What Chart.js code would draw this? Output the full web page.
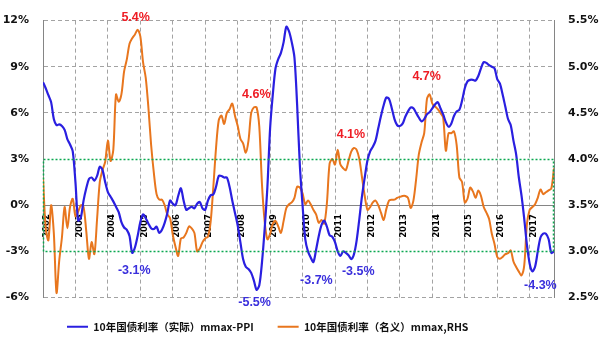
<!DOCTYPE html>
<html>
<head>
<meta charset="utf-8">
<script src="https://cdn.jsdelivr.net/npm/chart.js@4.4.1/dist/chart.umd.min.js"></script>
<style>
  html, body { margin: 0; padding: 0; background: #fff; }
  #wrap { width: 600px; height: 340px; }
</style>
</head>
<body>
<div id="wrap"><canvas id="yield-chart" width="600" height="340"></canvas></div>
<script>
// monthly series, first value = Jan 2002
const startYear = 2002;
const yearTicks = [2002, 2003, 2004, 2005, 2006, 2007, 2008, 2009, 2010, 2011, 2012, 2013, 2014, 2015, 2016, 2017];
const leftTicks = [-6, -3, 0, 3, 6, 9, 12];
const rightTicks = [2.5, 3.0, 3.5, 4.0, 4.5, 5.0, 5.5];
const seriesNames = ["10年国债利率（实际）mmax-PPI", "10年国债利率（名义）mmax,RHS"];

// real 10y yield (left axis, %)
const realYield = [
  8.0, 7.6, 7.15, 6.7, 5.6, 5.2, 5.25, 5.15, 4.9, 4.3, 3.95, 3.5,
  1.5, -1.0, -0.8, 0.3, 1.1, 1.7, 1.8, 1.6, 1.9, 2.5, 2.3, 1.5,
  0.85, 0.55, 0.25, -0.1, -0.45, -1.1, -1.45, -1.6, -2.0, -3.1, -2.75, -2.0,
  -1.1, -0.6, -0.85, -1.2, -1.5, -1.55, -1.4, -1.8, -1.6, -1.15, -0.5, 0.3,
  0.1, 0.0, 0.6, 1.1, 0.3, -0.3, -0.2, -0.1, -0.2, 0.1, 0.2, -0.2,
  -0.3, 0.3, 0.65, 0.7, 1.2, 1.9, 1.9, 1.8, 1.8, 1.2, 0.3, -0.5,
  -1.3, -2.4, -3.5, -4.0, -4.15, -4.4, -4.9, -5.5, -5.2, -3.7, -1.5, 1.2,
  5.0, 7.2, 8.9, 9.5, 9.9, 10.6, 11.6, 11.3, 10.6, 9.6, 6.5, 2.6,
  0.0, -2.2, -3.0, -3.4, -3.7, -2.9, -2.0, -1.3, -1.0, -1.4, -1.95, -2.05,
  -2.4, -3.0, -3.3, -3.0, -3.1, -3.25, -3.5, -3.2, -2.3, -0.9, 0.6, 1.8,
  2.9, 3.5, 3.8, 4.2, 5.0, 5.8, 6.5, 7.0, 6.9, 6.3, 5.6, 5.2,
  5.15, 5.3, 5.75, 6.1, 6.35, 6.3, 6.0, 5.7, 5.45, 5.6, 5.9, 6.05,
  6.3, 6.55, 6.7, 6.3, 5.9, 5.4, 5.1, 5.3, 5.8, 6.1, 6.2, 6.8,
  7.6, 8.05, 8.15, 8.15, 8.1, 8.4, 8.9, 9.3, 9.25, 9.1, 9.0, 8.9,
  8.2, 7.9, 7.2, 6.4, 5.6, 5.2, 4.2, 3.3, 1.8, 0.6, -0.9, -2.6,
  -3.8, -4.3, -4.0, -3.0, -2.1, -1.85, -1.85, -2.2, -3.1, -3.0
];

// nominal 10y yield (right axis, %)
const nominalYield = [
  3.8, 3.25, 3.12, 3.5, 3.2, 2.55, 2.9, 3.15, 3.48, 3.25, 3.48, 3.57,
  3.38, 3.43, 3.5, 3.48, 3.22, 2.92, 3.1, 2.97, 3.35, 3.75, 3.88, 3.97,
  4.2, 3.98, 4.1, 4.7, 4.62, 4.7, 4.95, 5.08, 5.25, 5.31, 5.35, 5.4,
  5.33, 5.05, 4.88, 4.55, 4.15, 3.85, 3.62, 3.56, 3.56, 3.5, 3.4, 3.36,
  3.18, 3.05, 2.95, 3.14, 3.15, 3.2, 3.27, 3.25, 3.2, 3.0, 3.03, 3.1,
  3.14, 3.16, 3.32, 3.7, 4.12, 4.42, 4.47, 4.38, 4.5, 4.54, 4.6, 4.47,
  4.36, 4.22, 4.17, 4.07, 4.2, 4.5, 4.56, 4.56, 4.35, 3.72, 3.32, 3.13,
  3.19, 3.3, 3.33, 3.27, 3.2, 3.33, 3.47, 3.51, 3.53, 3.58, 3.7, 3.69,
  3.63, 3.51, 3.55, 3.51, 3.45, 3.4, 3.31, 3.34, 3.3, 3.52, 3.95, 4.0,
  3.94, 4.1, 3.94, 3.9, 3.88, 3.98, 4.08, 4.12, 4.1, 4.0, 3.8, 3.6,
  3.45, 3.48, 3.53, 3.55, 3.5, 3.42, 3.34, 3.46, 3.55, 3.56, 3.56, 3.58,
  3.59, 3.6, 3.6, 3.58, 3.47, 3.55, 3.78, 4.05, 4.18, 4.28, 4.65, 4.7,
  4.6, 4.57, 4.54, 4.5, 4.45, 4.09, 4.28, 4.28, 4.3, 4.15, 3.8, 3.75,
  3.53, 3.57, 3.69, 3.65, 3.58, 3.66, 3.6, 3.48, 3.42, 3.35, 3.19, 3.08,
  2.94, 2.92, 2.94, 2.97, 2.98, 3.01, 2.89, 2.83, 2.78, 2.74, 2.85, 3.3,
  3.45, 3.48, 3.51, 3.58, 3.67, 3.62, 3.64, 3.66, 3.68, 3.9
];

// +/-3% band on the left axis
const bandHigh = 3;
const bandLow = -3;

// peaks and troughs that get a value label (series index, month index)
const callouts = [
  { series: 1, month: 35, dx: -2, dy: -12 },
  { series: 1, month: 70, dx: 24, dy: -9 },
  { series: 1, month: 115, dx: -3, dy: -13 },
  { series: 1, month: 143, dx: -3, dy: -18 },
  { series: 0, month: 33, dx: 2, dy: 18 },
  { series: 0, month: 79, dx: -2, dy: 13 },
  { series: 0, month: 100, dx: 3, dy: 18 },
  { series: 0, month: 114, dx: 7, dy: 13 },
  { series: 0, month: 181, dx: 8, dy: 14 }
];

const BLUE = '#2a1fe0';
const ORANGE = '#e8761e';
const GRID = '#a3a3a3';
const AXIS = '#858585';

const toPoints = arr => arr.map((v, i) => ({ x: startYear + i / 12, y: v }));

// green dotted frame around the +/-3% range
const bandBox = {
  id: 'bandBox',
  afterDraw(chart) {
    const { ctx, chartArea: a, scales } = chart;
    const top = Math.round(scales.y.getPixelForValue(bandHigh)) + 0.5;
    const bottom = Math.round(scales.y.getPixelForValue(bandLow)) + 0.5;
    const left = Math.round(a.left) + 0.5;
    const right = Math.round(a.right) - 0.5;
    ctx.save();
    ctx.strokeStyle = '#0aa850';
    ctx.lineWidth = 1.5;
    ctx.setLineDash([2, 2]);
    ctx.beginPath();
    ctx.moveTo(left, top); ctx.lineTo(right, top); ctx.lineTo(right, bottom);
    ctx.lineTo(left, bottom); ctx.lineTo(left, top);
    ctx.stroke();
    ctx.restore();
  }
};

const valueLabels = {
  id: 'valueLabels',
  afterDatasetsDraw(chart) {
    const { ctx, scales } = chart;
    ctx.save();
    ctx.font = "bold 12.5px 'Liberation Sans', Arial, sans-serif";
    ctx.textAlign = 'center';
    ctx.textBaseline = 'middle';
    callouts.forEach(c => {
      const data = c.series === 0 ? realYield : nominalYield;
      const yScale = c.series === 0 ? scales.y : scales.y1;
      const v = data[c.month];
      const px = scales.x.getPixelForValue(startYear + c.month / 12);
      const py = yScale.getPixelForValue(v);
      ctx.fillStyle = c.series === 0 ? '#3a2fdc' : '#ee1c24';
      ctx.fillText(v.toFixed(1) + '%', px + c.dx, py + c.dy);
    });
    ctx.restore();
  }
};

Chart.defaults.font.family = "'DejaVu Sans', sans-serif";

new Chart(document.getElementById('yield-chart'), {
  type: 'line',
  data: {
    datasets: [
      {
        label: seriesNames[0],
        data: toPoints(realYield),
        yAxisID: 'y',
        borderColor: BLUE,
        backgroundColor: BLUE,
        borderWidth: 2.2,
        pointRadius: 0,
        tension: 0.3
      },
      {
        label: seriesNames[1],
        data: toPoints(nominalYield),
        yAxisID: 'y1',
        borderColor: ORANGE,
        backgroundColor: ORANGE,
        borderWidth: 2,
        pointRadius: 0,
        tension: 0.3
      }
    ]
  },
  options: {
    responsive: false,
    animation: false,
    layout: { padding: { top: 16, right: 0, bottom: -2, left: 0 } },
    plugins: {
      tooltip: { enabled: false },
      legend: {
        position: 'bottom',
        align: 'start',
        fullSize: false,
        labels: {
          usePointStyle: true,
          pointStyle: 'line',
          pointStyleWidth: 21,
          padding: 24,
          color: '#111',
          font: { family: "'Noto Sans CJK SC', sans-serif", size: 10.5, weight: 'bold' }
        }
      }
    },
    scales: {
      x: {
        type: 'linear',
        position: { y: 0 },
        min: startYear,
        max: startYear + (realYield.length - 1) / 12,
        afterBuildTicks: s => { s.ticks = yearTicks.map(v => ({ value: v })); },
        grid: { color: GRID, lineWidth: 1, drawTicks: false },
        border: { display: true, color: AXIS, width: 1, dash: [4, 3] },
        ticks: {
          autoSkip: false,
          minRotation: 90,
          maxRotation: 90,
          padding: 9,
          labelOffset: 4,
          color: '#000',
          font: { size: 8.5, weight: 'bold' },
          callback: v => String(v)
        }
      },
      y: {
        position: 'left',
        min: -6,
        max: 12,
        afterBuildTicks: s => { s.ticks = leftTicks.map(v => ({ value: v })); },
        afterFit: s => { s.width = 43; },
        grid: {
          drawTicks: false,
          lineWidth: 1,
          color: c => [bandHigh, 0, bandLow].includes(c.tick.value) ? 'rgba(0,0,0,0)' : GRID
        },
        border: { color: AXIS, width: 1, dash: [4, 3] },
        ticks: {
          padding: 14,
          color: '#111',
          font: { size: 11, weight: 'bold' },
          callback: v => v + '%'
        }
      },
      y1: {
        position: 'right',
        min: 2.5,
        max: 5.5,
        afterBuildTicks: s => { s.ticks = rightTicks.map(v => ({ value: v })); },
        afterFit: s => { s.width = 46; },
        grid: { drawOnChartArea: false, drawTicks: false },
        border: { color: AXIS, width: 1 },
        ticks: {
          padding: 14,
          color: '#111',
          font: { size: 11, weight: 'bold' },
          callback: v => v.toFixed(1) + '%'
        }
      }
    }
  },
  plugins: [bandBox, valueLabels]
});
</script>
</body>
</html>
